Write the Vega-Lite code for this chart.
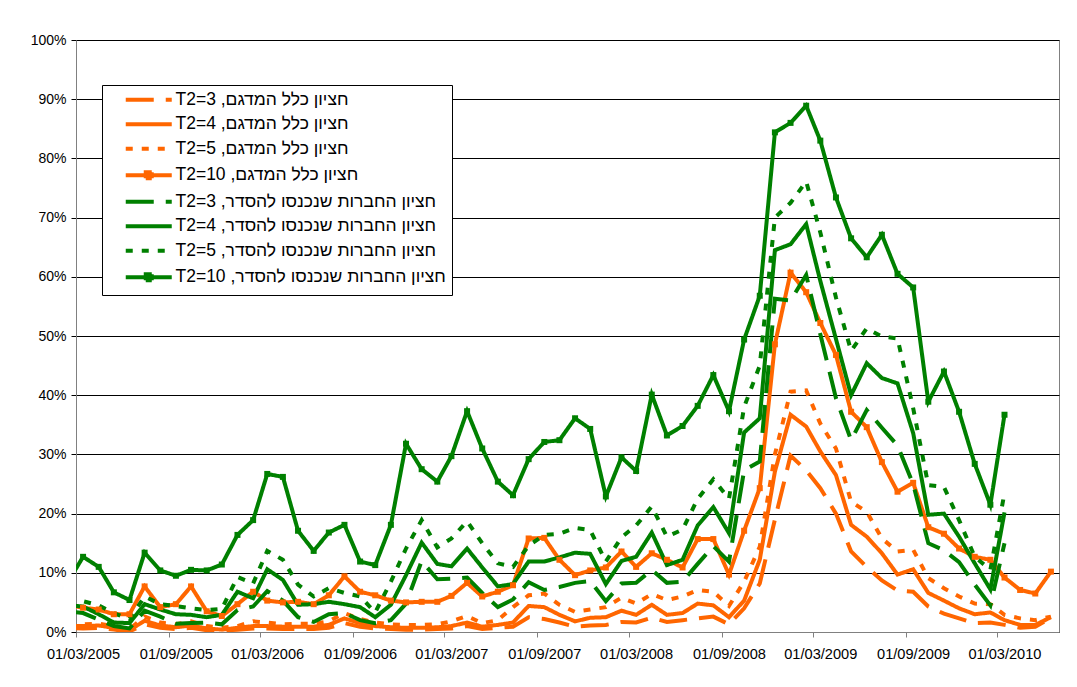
{
  "$schema": "https://vega.github.io/schema/vega-lite/v6.json",
  "width": 983,
  "height": 592,
  "autosize": {"type": "none"},
  "padding": {"left": 76, "top": 40, "right": 18, "bottom": 55},
  "background": "white",
  "config": {
    "view": {"stroke": "#808080", "strokeWidth": 1},
    "font": "Liberation Sans"
  },
  "data": {
    "values": [
      {"date": "2005-02-15", "o3": 0.7, "o4": 1.0, "o5": 1.5, "o10": 4.5, "g3": 3.5, "g4": 4.5, "g5": 6.0, "g10": 8.7},
      {"date": "2005-03-15", "o3": 0.6, "o4": 1.0, "o5": 1.3, "o10": 4.1, "g3": 3.2, "g4": 4.3, "g5": 5.2, "g10": 12.7},
      {"date": "2005-04-15", "o3": 0.7, "o4": 1.1, "o5": 1.4, "o10": 3.8, "g3": 2.1, "g4": 3.0, "g5": 4.5, "g10": 11.0},
      {"date": "2005-05-15", "o3": 0.4, "o4": 0.7, "o5": 1.0, "o10": 3.0, "g3": 1.0, "g4": 1.6, "g5": 3.2, "g10": 6.7},
      {"date": "2005-06-15", "o3": 0.1, "o4": 0.3, "o5": 0.5, "o10": 3.0, "g3": 0.6, "g4": 1.5, "g5": 2.2, "g10": 5.4},
      {"date": "2005-07-15", "o3": 1.3, "o4": 1.9, "o5": 2.6, "o10": 7.7, "g3": 3.6, "g4": 4.7, "g5": 6.0, "g10": 13.4},
      {"date": "2005-08-15", "o3": 0.7, "o4": 1.1, "o5": 1.6, "o10": 4.2, "g3": 2.6, "g4": 3.8, "g5": 4.7, "g10": 10.4},
      {"date": "2005-09-15", "o3": 0.5, "o4": 0.8, "o5": 1.3, "o10": 4.7, "g3": 1.4, "g4": 3.0, "g5": 4.4, "g10": 9.5},
      {"date": "2005-10-15", "o3": 0.7, "o4": 1.1, "o5": 1.8, "o10": 7.7, "g3": 1.5, "g4": 2.9, "g5": 4.0, "g10": 10.5},
      {"date": "2005-11-15", "o3": 0.3, "o4": 0.6, "o5": 1.0, "o10": 3.5, "g3": 1.6, "g4": 2.5, "g5": 3.7, "g10": 10.4},
      {"date": "2005-12-15", "o3": 0.2, "o4": 0.4, "o5": 0.7, "o10": 2.7, "g3": 1.3, "g4": 2.9, "g5": 3.9, "g10": 11.4},
      {"date": "2006-01-15", "o3": 0.4, "o4": 0.7, "o5": 1.0, "o10": 4.7, "g3": 3.7, "g4": 6.8, "g5": 9.3, "g10": 16.4},
      {"date": "2006-02-15", "o3": 0.6, "o4": 1.0, "o5": 1.8, "o10": 6.8, "g3": 4.3, "g4": 5.7, "g5": 8.2, "g10": 18.9},
      {"date": "2006-03-15", "o3": 0.6, "o4": 1.0, "o5": 1.6, "o10": 5.3, "g3": 6.9, "g4": 10.6, "g5": 13.7, "g10": 26.7},
      {"date": "2006-04-15", "o3": 0.5, "o4": 0.9, "o5": 1.3, "o10": 5.0, "g3": 5.3, "g4": 8.8, "g5": 12.2, "g10": 26.2},
      {"date": "2006-05-15", "o3": 0.5, "o4": 0.9, "o5": 1.4, "o10": 5.1, "g3": 2.5, "g4": 4.6, "g5": 8.0, "g10": 17.1},
      {"date": "2006-06-15", "o3": 0.5, "o4": 0.9, "o5": 1.4, "o10": 4.7, "g3": 1.7, "g4": 4.7, "g5": 6.0, "g10": 13.7},
      {"date": "2006-07-15", "o3": 0.7, "o4": 1.2, "o5": 1.8, "o10": 6.2, "g3": 3.0, "g4": 5.1, "g5": 7.4, "g10": 16.8},
      {"date": "2006-08-15", "o3": 1.5, "o4": 2.3, "o5": 3.2, "o10": 9.4, "g3": 3.2, "g4": 4.7, "g5": 6.6, "g10": 18.1},
      {"date": "2006-09-15", "o3": 0.9, "o4": 1.5, "o5": 2.2, "o10": 6.8, "g3": 2.0, "g4": 4.2, "g5": 6.0, "g10": 11.9},
      {"date": "2006-10-15", "o3": 0.6, "o4": 1.0, "o5": 1.6, "o10": 6.2, "g3": 1.5, "g4": 2.5, "g5": 3.3, "g10": 11.3},
      {"date": "2006-11-15", "o3": 0.5, "o4": 0.8, "o5": 1.3, "o10": 5.3, "g3": 2.0, "g4": 4.6, "g5": 8.5, "g10": 18.1},
      {"date": "2006-12-15", "o3": 0.4, "o4": 0.7, "o5": 1.2, "o10": 5.0, "g3": 4.8, "g4": 9.6, "g5": 14.1, "g10": 31.8},
      {"date": "2007-01-15", "o3": 0.4, "o4": 0.7, "o5": 1.2, "o10": 5.1, "g3": 12.0, "g4": 15.1, "g5": 18.9, "g10": 27.5},
      {"date": "2007-02-15", "o3": 0.5, "o4": 0.8, "o5": 1.3, "o10": 5.1, "g3": 8.9, "g4": 11.5, "g5": 14.3, "g10": 25.4},
      {"date": "2007-03-15", "o3": 0.6, "o4": 1.0, "o5": 1.8, "o10": 6.1, "g3": 9.0, "g4": 11.1, "g5": 15.8, "g10": 29.7},
      {"date": "2007-04-15", "o3": 1.0, "o4": 1.6, "o5": 2.7, "o10": 8.3, "g3": 9.2, "g4": 14.1, "g5": 18.7, "g10": 37.3},
      {"date": "2007-05-15", "o3": 0.5, "o4": 0.9, "o5": 1.5, "o10": 6.0, "g3": 6.6, "g4": 10.9, "g5": 15.0, "g10": 31.0},
      {"date": "2007-06-15", "o3": 0.7, "o4": 1.2, "o5": 2.0, "o10": 6.8, "g3": 4.2, "g4": 7.7, "g5": 11.6, "g10": 25.4},
      {"date": "2007-07-15", "o3": 0.9, "o4": 1.6, "o5": 4.2, "o10": 7.9, "g3": 5.5, "g4": 8.1, "g5": 11.0, "g10": 23.1},
      {"date": "2007-08-15", "o3": 2.5, "o4": 4.4, "o5": 6.2, "o10": 15.8, "g3": 8.4, "g4": 11.9, "g5": 14.6, "g10": 29.2},
      {"date": "2007-09-15", "o3": 2.2, "o4": 4.2, "o5": 6.5, "o10": 15.9, "g3": 7.1, "g4": 11.9, "g5": 16.4, "g10": 32.1},
      {"date": "2007-10-15", "o3": 1.6, "o4": 2.9, "o5": 4.6, "o10": 12.2, "g3": 7.6, "g4": 12.6, "g5": 16.6, "g10": 32.4},
      {"date": "2007-11-15", "o3": 0.9, "o4": 1.8, "o5": 3.4, "o10": 9.6, "g3": 8.3, "g4": 13.4, "g5": 17.6, "g10": 36.1},
      {"date": "2007-12-15", "o3": 1.1, "o4": 2.4, "o5": 3.8, "o10": 10.4, "g3": 8.6, "g4": 13.2, "g5": 17.2, "g10": 34.3},
      {"date": "2008-01-15", "o3": 1.2, "o4": 2.5, "o5": 4.2, "o10": 10.9, "g3": 5.2, "g4": 8.1, "g5": 11.9, "g10": 22.9},
      {"date": "2008-02-15", "o3": 1.7, "o4": 3.6, "o5": 5.8, "o10": 13.6, "g3": 8.2, "g4": 12.0, "g5": 16.0, "g10": 29.5},
      {"date": "2008-03-15", "o3": 1.6, "o4": 2.9, "o5": 4.8, "o10": 11.0, "g3": 8.3, "g4": 12.7, "g5": 18.0, "g10": 27.2},
      {"date": "2008-04-15", "o3": 2.4, "o4": 4.6, "o5": 6.4, "o10": 13.3, "g3": 10.5, "g4": 16.8, "g5": 21.2, "g10": 40.1},
      {"date": "2008-05-15", "o3": 1.7, "o4": 2.9, "o5": 5.4, "o10": 12.2, "g3": 8.3, "g4": 11.3, "g5": 16.1, "g10": 33.2},
      {"date": "2008-06-15", "o3": 2.0, "o4": 3.2, "o5": 6.0, "o10": 10.9, "g3": 8.5, "g4": 12.2, "g5": 17.3, "g10": 34.8},
      {"date": "2008-07-15", "o3": 2.3, "o4": 4.8, "o5": 7.1, "o10": 15.7, "g3": 11.5, "g4": 18.0, "g5": 22.5, "g10": 38.2},
      {"date": "2008-08-15", "o3": 2.6, "o4": 4.5, "o5": 6.8, "o10": 15.7, "g3": 14.5, "g4": 21.1, "g5": 25.8, "g10": 43.4},
      {"date": "2008-09-15", "o3": 1.3, "o4": 2.5, "o5": 4.4, "o10": 9.7, "g3": 11.9, "g4": 16.7, "g5": 22.5, "g10": 37.3},
      {"date": "2008-10-15", "o3": 4.0, "o4": 5.3, "o5": 8.5, "o10": 17.1, "g3": 27.3, "g4": 33.7, "g5": 38.0, "g10": 49.4},
      {"date": "2008-11-15", "o3": 8.2, "o4": 12.2, "o5": 14.4, "o10": 24.3, "g3": 28.8, "g4": 36.1, "g5": 45.0, "g10": 56.8},
      {"date": "2008-12-15", "o3": 19.0, "o4": 27.1, "o5": 30.0, "o10": 48.6, "g3": 56.3, "g4": 64.5, "g5": 70.0, "g10": 84.4},
      {"date": "2009-01-15", "o3": 29.8, "o4": 36.7, "o5": 40.6, "o10": 60.7, "g3": 56.0, "g4": 65.5, "g5": 72.5, "g10": 86.0},
      {"date": "2009-02-15", "o3": 27.3, "o4": 34.7, "o5": 40.8, "o10": 57.4, "g3": 60.3, "g4": 68.9, "g5": 76.1, "g10": 88.9},
      {"date": "2009-03-15", "o3": 24.3, "o4": 30.5, "o5": 35.2, "o10": 52.2, "g3": 50.3, "g4": 59.3, "g5": 67.5, "g10": 83.0},
      {"date": "2009-04-15", "o3": 20.0, "o4": 26.5, "o5": 31.0, "o10": 46.8, "g3": 39.5, "g4": 49.5, "g5": 56.5, "g10": 73.4},
      {"date": "2009-05-15", "o3": 13.6, "o4": 18.1, "o5": 22.0, "o10": 37.2, "g3": 32.4, "g4": 40.0, "g5": 47.5, "g10": 66.5},
      {"date": "2009-06-15", "o3": 11.0, "o4": 16.1, "o5": 20.3, "o10": 34.6, "g3": 37.5, "g4": 45.4, "g5": 51.3, "g10": 63.3},
      {"date": "2009-07-15", "o3": 8.7, "o4": 13.3, "o5": 15.8, "o10": 28.7, "g3": 34.5, "g4": 42.9, "g5": 49.9, "g10": 67.1},
      {"date": "2009-08-15", "o3": 7.0, "o4": 9.7, "o5": 13.6, "o10": 23.7, "g3": 31.5, "g4": 42.0, "g5": 49.6, "g10": 60.5},
      {"date": "2009-09-15", "o3": 6.8, "o4": 10.6, "o5": 13.9, "o10": 25.2, "g3": 25.0, "g4": 33.6, "g5": 37.8, "g10": 58.2},
      {"date": "2009-10-15", "o3": 4.3, "o4": 6.6, "o5": 9.1, "o10": 17.7, "g3": 15.0, "g4": 19.8, "g5": 24.8, "g10": 38.9},
      {"date": "2009-11-15", "o3": 3.1, "o4": 5.3, "o5": 7.4, "o10": 16.6, "g3": 13.8, "g4": 20.0, "g5": 24.5, "g10": 44.0},
      {"date": "2009-12-15", "o3": 2.3, "o4": 4.0, "o5": 6.0, "o10": 14.1, "g3": 11.8, "g4": 16.1, "g5": 18.9, "g10": 37.2},
      {"date": "2010-01-15", "o3": 1.5, "o4": 3.0, "o5": 4.8, "o10": 12.7, "g3": 8.0, "g4": 11.6, "g5": 12.7, "g10": 28.4},
      {"date": "2010-02-15", "o3": 1.6, "o4": 3.3, "o5": 4.7, "o10": 12.2, "g3": 4.5, "g4": 7.2, "g5": 10.5, "g10": 21.5},
      {"date": "2010-03-15", "o3": 1.2, "o4": 2.0, "o5": 2.9, "o10": 9.2, "g3": 15.0, "g4": 20.2, "g5": 23.5, "g10": 36.7},
      {"date": "2010-04-15", "o3": 0.7, "o4": 1.2, "o5": 2.3, "o10": 7.1, "g3": null, "g4": null, "g5": null, "g10": null},
      {"date": "2010-05-15", "o3": 0.9, "o4": 1.2, "o5": 2.0, "o10": 6.5, "g3": null, "g4": null, "g5": null, "g10": null},
      {"date": "2010-06-15", "o3": 2.4, "o4": 2.5, "o5": 2.6, "o10": 10.2, "g3": null, "g4": null, "g5": null, "g10": null}
    ]
  },
  "transform": [
    {"fold": ["o3", "o4", "o5", "o10", "g3", "g4", "g5", "g10"], "as": ["series", "value"]}
  ],
  "layer": [
    {
      "mark": {"type": "line", "clip": true, "strokeCap": "butt", "strokeJoin": "miter"},
      "encoding": {
        "x": {
          "field": "date",
          "type": "temporal",
          "scale": {
            "type": "utc",
            "domain": [
              {"year": 2005, "month": 3, "date": 1, "utc": true},
              {"year": 2010, "month": 7, "date": 1, "utc": true}
            ]
          },
          "axis": {
            "values": [
              {"year": 2005, "month": 3, "date": 1, "utc": true},
              {"year": 2005, "month": 9, "date": 1, "utc": true},
              {"year": 2006, "month": 3, "date": 1, "utc": true},
              {"year": 2006, "month": 9, "date": 1, "utc": true},
              {"year": 2007, "month": 3, "date": 1, "utc": true},
              {"year": 2007, "month": 9, "date": 1, "utc": true},
              {"year": 2008, "month": 3, "date": 1, "utc": true},
              {"year": 2008, "month": 9, "date": 1, "utc": true},
              {"year": 2009, "month": 3, "date": 1, "utc": true},
              {"year": 2009, "month": 9, "date": 1, "utc": true},
              {"year": 2010, "month": 3, "date": 1, "utc": true}
            ],
            "format": "%d/%m/%Y",
            "title": null,
            "grid": false,
            "labelFont": "Liberation Sans",
            "labelFontSize": 14.6,
            "labelColor": "#000000",
            "labelOffset": 7,
            "labelPadding": 9,
            "labelFlush": false,
            "labelOverlap": false,
            "tickSize": 5,
            "tickColor": "#808080",
            "domainColor": "#808080"
          }
        },
        "y": {
          "field": "value",
          "type": "quantitative",
          "scale": {"domain": [0, 100], "nice": false},
          "axis": {
            "values": [0, 10, 20, 30, 40, 50, 60, 70, 80, 90, 100],
            "labelExpr": "datum.value + '%'",
            "title": null,
            "grid": true,
            "gridColor": "#000000",
            "gridWidth": 1,
            "labelFont": "Liberation Sans",
            "labelFontSize": 14,
            "labelColor": "#000000",
            "labelPadding": 5,
            "tickSize": 5,
            "tickColor": "#000000",
            "domainColor": "#808080"
          }
        },
        "color": {
          "field": "series",
          "type": "nominal",
          "scale": {
            "domain": ["o3", "o4", "o5", "o10", "g3", "g4", "g5", "g10"],
            "range": ["#ff6600", "#ff6600", "#ff6600", "#ff6600", "#008000", "#008000", "#008000", "#008000"]
          },
          "legend": {
            "orient": "none",
            "legendX": 26,
            "legendY": 45,
            "title": null,
            "fillColor": "#ffffff",
            "strokeColor": "#000000",
            "padding": 6,
            "symbolOffset": 32,
            "symbolSize": 100,
            "symbolType": "stroke",
            "labelFont": "Liberation Sans",
            "labelFontSize": 17.5,
            "labelColor": "#000000",
            "labelOffset": 18,
            "labelLimit": 0,
            "rowPadding": 5.5,
            "labelExpr": "datum.value == 'o3' ? '\u202bחציון כלל המדגם, T2=3\u202c\u00a0\u00a0\u00a0\u00a0' : datum.value == 'o4' ? '\u202bחציון כלל המדגם, T2=4\u202c\u00a0\u00a0\u00a0\u00a0' : datum.value == 'o5' ? '\u202bחציון כלל המדגם, T2=5\u202c\u00a0\u00a0\u00a0\u00a0' : datum.value == 'o10' ? '\u202bחציון כלל המדגם, T2=10\u202c\u00a0\u00a0\u00a0\u00a0' : datum.value == 'g3' ? '\u202bחציון החברות שנכנסו להסדר, T2=3\u202c\u00a0\u00a0\u00a0\u00a0' : datum.value == 'g4' ? '\u202bחציון החברות שנכנסו להסדר, T2=4\u202c\u00a0\u00a0\u00a0\u00a0' : datum.value == 'g5' ? '\u202bחציון החברות שנכנסו להסדר, T2=5\u202c\u00a0\u00a0\u00a0\u00a0' : '\u202bחציון החברות שנכנסו להסדר, T2=10\u202c\u00a0\u00a0\u00a0\u00a0'",
            "encode": {
              "symbols": {
                "update": {
                  "shape": {"signal": "(datum.value == 'o10' || datum.value == 'g10') ? 'M-4.6,0H4.6M-0.6,-0.6H0.6V0.6H-0.6Z' : 'M-4.6,0H4.6'"},
                  "fill": {"signal": "datum.value == 'o10' ? '#ff6600' : datum.value == 'g10' ? '#008000' : 'transparent'"},
                  "fillOpacity": {"value": 1},
                  "opacity": {"value": 1}
                }
              }
            }
          }
        },
        "strokeDash": {
          "field": "series",
          "type": "nominal",
          "scale": {
            "domain": ["o3", "o4", "o5", "o10", "g3", "g4", "g5", "g10"],
            "range": [[28, 12], [1, 0], [7, 9], [1, 0], [28, 12], [1, 0], [7, 9], [1, 0]]
          }
        },
        "strokeWidth": {
          "field": "series",
          "type": "nominal",
          "scale": {
            "domain": ["o3", "o4", "o5", "o10", "g3", "g4", "g5", "g10"],
            "range": [4, 4, 3, 2, 4, 4, 3, 2]
          }
        }
      }
    },
    {
      "transform": [{"filter": "datum.series == 'o10' || datum.series == 'g10'"}],
      "mark": {"type": "point", "shape": "square", "filled": true, "size": 36, "opacity": 1, "clip": true},
      "encoding": {
        "x": {"field": "date", "type": "temporal"},
        "y": {"field": "value", "type": "quantitative"},
        "color": {"field": "series", "type": "nominal", "legend": null}
      }
    }
  ]
}
